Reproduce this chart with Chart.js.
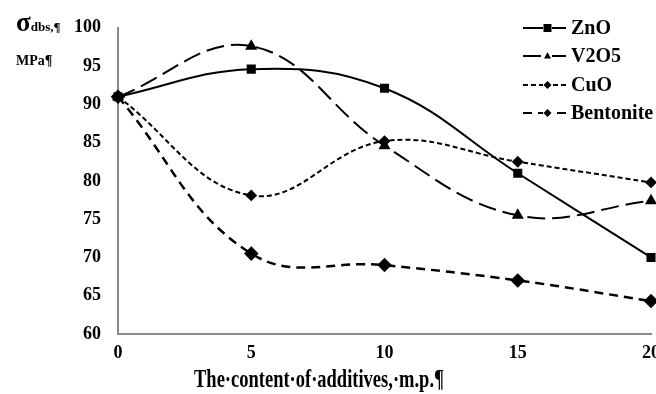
<!DOCTYPE html>
<html>
<head>
<meta charset="utf-8">
<script src="https://cdn.jsdelivr.net/npm/chart.js@4.4.0/dist/chart.umd.min.js"></script>
<style>
html, body { margin: 0; padding: 0; background: #fff; }
#wrap { position: relative; width: 656px; height: 394px; overflow: hidden; }
#wrap canvas { position: absolute; left: 0; top: 0; }
.lbl { position: absolute; font-family: "Liberation Serif", "Times New Roman", serif; font-weight: bold; color: #000; white-space: nowrap; line-height: 1; }
</style>
</head>
<body>
<div id="wrap">
    <canvas id="chart" width="670" height="394" style="width:670px;height:394px;"></canvas>
    <div class="lbl" style="left:16px;top:9px;"><span style="font-size:27px;">σ</span><span style="font-size:13px;">dbs,¶</span></div>
    <div class="lbl" style="left:16px;top:54px;font-size:14px;">MPa¶</div>
    <div class="lbl" style="left:319px;top:366px;font-size:25px;transform:translateX(-50%) scaleX(0.74);">The·content·of·additives,·m.p.¶</div>
</div>
<script>
// values
var contents = [0, 5, 10, 15, 20];
var znoValues = [91, 94.6, 92.1, 81, 70];
var v2o5Values = [91, 97.6, 84.6, 75.5, 77.4];
var cuoValues = [91, 78.1, 85.2, 82.5, 79.8];
var bentoniteValues = [91, 70.5, 69, 67, 64.3];
var seriesNames = ["ZnO", "V2O5", "CuO", "Bentonite"];
var yMin = 60, yMax = 100, yStep = 5;
var xMin = 0, xMax = 20, xStep = 5;

function pairs(vals) {
    return contents.map(function (c, i) { return { x: c, y: vals[i] }; });
}

var serif = "'Liberation Serif', 'Times New Roman', serif";

function shape(ctx, style, x, y, r) {
    ctx.beginPath();
    if (style === "rect") {
        ctx.rect(x - r, y - r, 2 * r, 2 * r);
    } else if (style === "triangle") {
        ctx.moveTo(x, y - r * 1.1);
        ctx.lineTo(x + r, y + r * 0.7);
        ctx.lineTo(x - r, y + r * 0.7);
        ctx.closePath();
    } else {
        ctx.moveTo(x, y - r);
        ctx.lineTo(x + r, y);
        ctx.lineTo(x, y + r);
        ctx.lineTo(x - r, y);
        ctx.closePath();
    }
    ctx.fill();
}

// legend drawn in the top-right corner like the original
var legendBox = {
    id: "legendBox",
    afterDatasetsDraw: function (chart) {
        var ctx = chart.ctx;
        var rows = [28, 56, 85, 113];
        ctx.save();
        chart.data.datasets.forEach(function (ds, i) {
            var y = rows[i];
            ctx.strokeStyle = "#000";
            ctx.fillStyle = "#000";
            ctx.lineWidth = 2;
            ctx.setLineDash(ds.borderDash || []);
            ctx.beginPath();
            ctx.moveTo(523, y);
            ctx.lineTo(543, y);
            ctx.stroke();
            ctx.beginPath();
            ctx.moveTo(566, y);
            ctx.lineTo(552, y);
            ctx.stroke();
            ctx.setLineDash([]);
            shape(ctx, ds.pointStyle, 547.5, y, ds.pointStyle === "triangle" ? 3.5 : 4);
            ctx.font = "bold 20px " + serif;
            ctx.textBaseline = "middle";
            ctx.textAlign = "left";
            ctx.fillText(ds.label, 571, y + 1);
        });
        ctx.restore();
    }
};

new Chart(document.getElementById("chart"), {
    type: "line",
    data: {
        datasets: [{
            label: seriesNames[0],
            data: pairs(znoValues),
            borderColor: "#000",
            backgroundColor: "#000",
            borderWidth: 2,
            pointStyle: "rect",
            pointRadius: 5,
            tension: 0.4,
            clip: false
        }, {
            label: seriesNames[1],
            data: pairs(v2o5Values),
            borderColor: "#000",
            backgroundColor: "#000",
            borderWidth: 2,
            borderDash: [18, 7],
            pointStyle: "triangle",
            pointRadius: 5,
            tension: 0.4,
            clip: false
        }, {
            label: seriesNames[2],
            data: pairs(cuoValues),
            borderColor: "#000",
            backgroundColor: "#000",
            borderWidth: 2,
            borderDash: [5, 3],
            pointStyle: "rectRot",
            pointRadius: 4.5,
            tension: 0.4,
            clip: false
        }, {
            label: seriesNames[3],
            data: pairs(bentoniteValues),
            borderColor: "#000",
            backgroundColor: "#000",
            borderWidth: 2.5,
            borderDash: [9, 6],
            pointStyle: "rectRot",
            pointRadius: 5.5,
            tension: 0.4,
            clip: false
        }]
    },
    options: {
        responsive: false,
        animation: false,
        layout: { padding: { top: 22, right: 19, bottom: 0, left: 0 } },
        plugins: {
            legend: { display: false },
            tooltip: { enabled: false }
        },
        scales: {
            x: {
                type: "linear",
                min: xMin,
                max: xMax,
                grid: { display: false, drawTicks: false },
                border: { display: true, color: "#8a8a8a", width: 2 },
                ticks: {
                    stepSize: xStep,
                    padding: 9,
                    color: "#000",
                    font: { family: serif, size: 18, weight: "bold" }
                },
                afterFit: function (scale) { scale.height = 60; }
            },
            y: {
                min: yMin,
                max: yMax,
                grid: { display: false, drawTicks: false },
                border: { display: true, color: "#8a8a8a", width: 2 },
                ticks: {
                    stepSize: yStep,
                    padding: 17,
                    color: "#000",
                    font: { family: serif, size: 18, weight: "bold" }
                },
                afterFit: function (scale) { scale.width = 118; }
            }
        }
    },
    plugins: [legendBox]
});
</script>
</body>
</html>
